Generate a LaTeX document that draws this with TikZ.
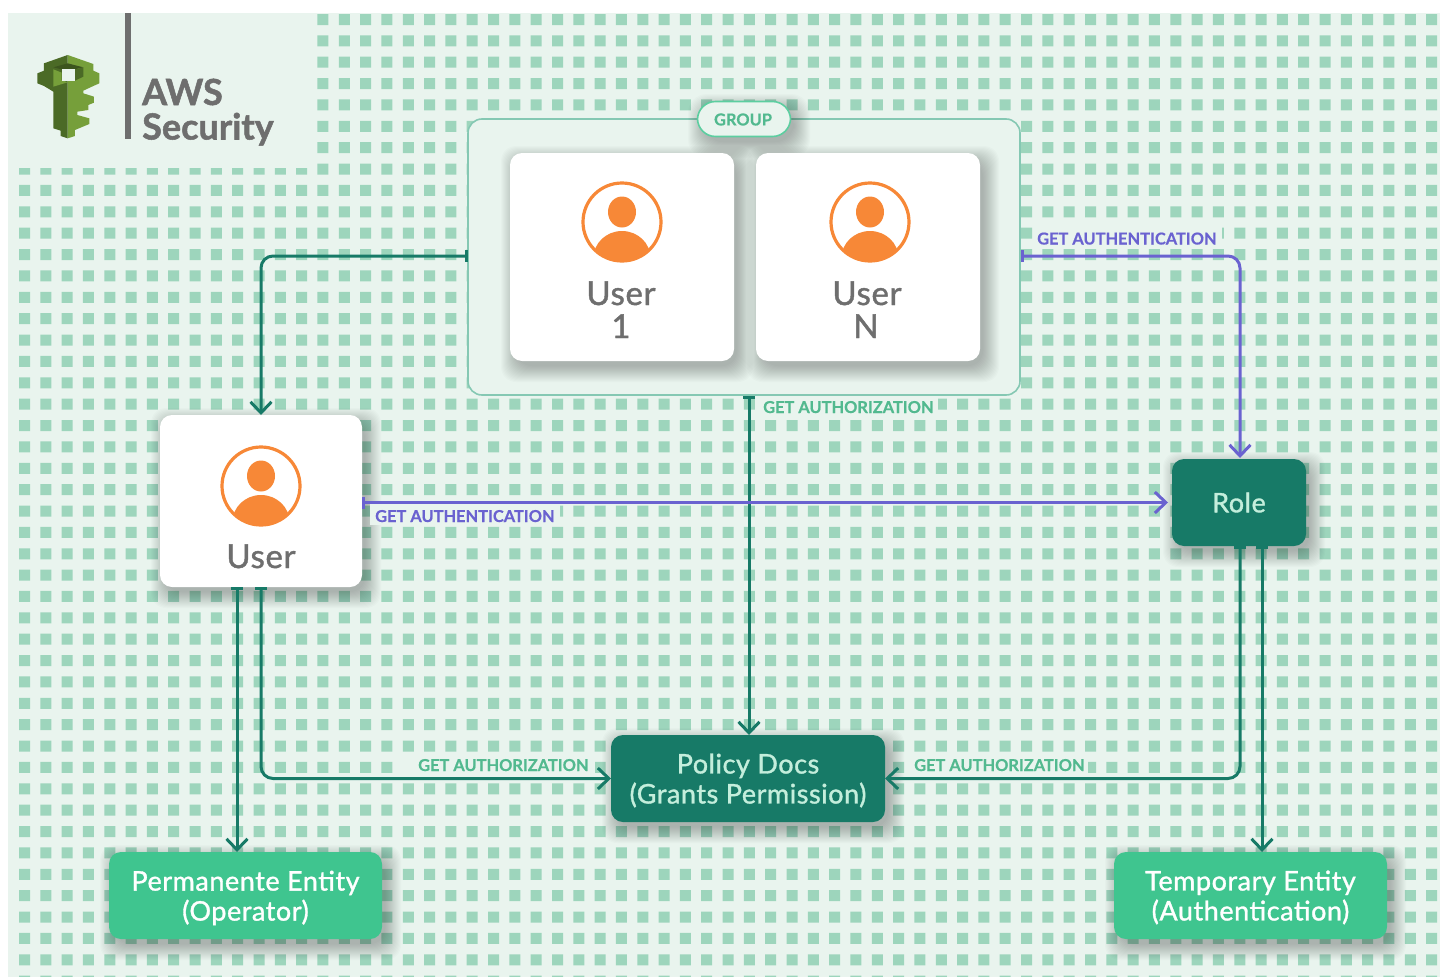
\documentclass[tikz,border=0pt]{standalone}
\usepackage{fontspec}
\setmainfont{Lato}[BoldFeatures={FakeBold=0.5}]
\newfontfamily\semif{Lato}[LetterSpace=2,UprightFeatures={FakeBold=1.2}]
\newfontfamily\heavyf{Lato}[BoldFeatures={FakeBold=1.4}]
\usetikzlibrary{arrows.meta,calc}
\definecolor{panel}{HTML}{E9F4EE}
\definecolor{dotc}{HTML}{9DD5BC}
\definecolor{tealc}{HTML}{177A67}
\definecolor{mintc}{HTML}{3FC58F}
\definecolor{purp}{HTML}{6A62D0}
\definecolor{lblgreen}{HTML}{52B98F}
\definecolor{grayt}{HTML}{6E6E6E}
\definecolor{orangec}{HTML}{F78837}
\definecolor{keyd}{HTML}{4B6A26}
\definecolor{keyl}{HTML}{769F3A}
\definecolor{softt}{HTML}{C4EEDC}
\newcommand{\softshadow}[5]{%
  \foreach \e in {14,13,...,-2}{%
    \fill[black,fill opacity=.015,rounded corners=#5+3pt]
      (#1-\e+5,#2-\e+7) rectangle (#3+\e+5,#4+\e+7);}}
\newcommand{\usericon}[2]{%
  \begin{scope}[shift={(#1,#2)}]
    \draw[orangec,line width=3.2pt,fill=white] (0,0) circle (39);
    \fill[orangec] (0,-10) ellipse (14 and 15.5);
    \begin{scope}
      \clip (0,0) circle (39);
      \fill[orangec] (0,36) ellipse (28.5 and 27);
    \end{scope}
  \end{scope}}
\tikzset{
  x=1pt,y=-1pt,
  boxbase/.style={inner sep=0pt,outer sep=0pt,align=center,rounded corners=12pt},
  whitebox/.style={boxbase,fill=white},
  tealbox/.style={boxbase,fill=tealc},
  mintbox/.style={boxbase,fill=mintc},
  boxtext/.style={inner sep=0pt,align=center,font=\semif\fontsize{27}{30}\selectfont},
  usertext/.style={anchor=base,text=grayt,inner sep=0pt,font=\semif\fontsize{33}{34}\selectfont},
  lbl/.style={anchor=base west,inner sep=0pt,font=\bfseries\fontsize{16.4}{17}\selectfont},
  tline/.style={draw=tealc,line width=3pt,rounded corners=12pt,{Bar[width=12pt,line width=3pt]}-{Straight Barb[length=11pt,width=21pt,line width=3pt]}},
  pline/.style={tline,draw=purp},
}
\begin{document}
\begin{tikzpicture}
\useasboundingbox (0,0) rectangle (1443,977);
% panel and dots
\fill[panel] (8,13) rectangle (1440,977);
\begin{scope}
  \clip (8,13) rectangle (1440,977);
  \fill[dotc] foreach \c in {0,...,66}{foreach \r in {0,...,45}{
    ({24.5+21.32*\c-5.5},{19.5+21.37*\r-5.5}) rectangle ++(11,11)}};
\end{scope}
% logo panel
\fill[panel] (8,13) rectangle (317,167.5);
\fill[grayt] (125,13) rectangle (130.5,139);
\node[anchor=base west,inner sep=0pt,text=grayt,font=\heavyf\bfseries\fontsize{36}{36}\selectfont] (aws) at (142,105) {AWS};
\node[anchor=base west,inner sep=0pt,text=grayt,font=\heavyf\bfseries\fontsize{36}{36}\selectfont] (sec) at (142,139.5) {Security};
% key
\begin{scope}[shift={(30,50)},x=0.3333pt,y=-0.3333pt]
  \fill[keyl] (113,15)--(190,42)--(190,62)--(208,70)--(208,100)--(190,108)--(160,122)--(160,130)--(192,140)--(192,158)--(175,165)--(175,180)--(142,185)--(142,195)--(178,205)--(178,222)--(135,240)--(135,258)--(113,265)--cycle;
  \fill[keyd] (113,15)--(42,40)--(42,62)--(22,70)--(22,100)--(42,108)--(70,125)--(70,235)--(92,242)--(92,258)--(113,265)--cycle;
  \fill[keyl] (70,58)--(95,68)--(95,90)--(113,97)--(70,110)--cycle;
  \fill[keyd!80!black] (70,52)--(113,40)--(160,52)--(135,58)--(95,58)--cycle;
  \fill[keyd] (135,58)--(160,52)--(160,80)--(135,92)--cycle;
  \fill[panel] (95,58)--(135,58)--(135,92)--(95,92)--cycle;
\end{scope}
% group
\draw[draw=dotc!85!teal,line width=1.6pt,fill=panel,rounded corners=14pt] (468,119) rectangle (1020,395);
\coordinate (grpW) at (468,256);
\coordinate (grpE) at (1021,256);
\coordinate (grpS) at (749,396);
% pill
\softshadow{697}{101}{791}{137}{16}
\node[boxbase,rounded corners=18pt,fill=panel,draw=mintc!85!white,line width=1.6pt,minimum width=93pt,minimum height=35pt] (pill) at (744,119) {};
\node[inner sep=0pt,text=lblgreen,font=\bfseries\fontsize{16.4}{17}\selectfont] (pillt) at (743,119.5) {GROUP};
% user boxes
\softshadow{510}{153}{734}{361}{12}
\softshadow{756}{153}{980}{361}{12}
\softshadow{160}{415}{362}{587}{12}
\softshadow{1172}{459}{1306}{546}{12}
\softshadow{611}{735}{885}{822}{12}
\softshadow{109}{852}{382}{939}{12}
\softshadow{1114}{852}{1387}{939}{12}
\node[whitebox,minimum width=224pt,minimum height=208pt] (u1) at (622,257) {};
\node[whitebox,minimum width=224pt,minimum height=208pt] (un) at (868,257) {};
\node[whitebox,minimum width=202pt,minimum height=172pt] (usr) at (261,501) {};
\node[tealbox,minimum width=134pt,minimum height=87pt] (role) at (1239,502.5) {};
\node[tealbox,minimum width=274pt,minimum height=87pt] (pol) at (748,778.5) {};
\node[mintbox,minimum width=273pt,minimum height=87pt] (perm) at (245.5,895.5) {};
\node[mintbox,minimum width=273pt,minimum height=87pt] (temp) at (1250.5,895.5) {};
\node[boxtext,text=softt] (rolet) at (1239,502.5) {Role};
\node[boxtext,text=softt] (polt) at (748,780.5) {Policy Docs\\(Grants Permission)};
\node[boxtext,text=white] (permt) at (245.5,898) {Permanente Entity\\(Operator)};
\node[boxtext,text=white] (tempt) at (1250.5,897.5) {Temporary Entity\\(Authentication)};
\usericon{622}{222}
\usericon{870}{222}
\usericon{261}{486}
\node[usertext] (u1a) at (621,305) {User};
\node[usertext] (u1b) at (621,338) {1};
\node[usertext] (una) at (867,305) {User};
\node[usertext] (unb) at (866,338) {N};
\node[usertext] (usrt) at (261,568) {User};
% label patches
\fill[panel] (1033,227) rectangle (1222,248);
\fill[panel] (756,397.5) rectangle (938,416);
\fill[panel] (370,503) rectangle (560,525);
\fill[panel] (396,760) rectangle (595,775);
\fill[panel] (905,760) rectangle (1088,775);
\node[lbl,text=purp] (l1) at (1037,244.5) {GET AUTHENTICATION};
\node[lbl,text=lblgreen] (l2) at (763,413) {GET AUTHORIZATION};
\node[lbl,text=purp] (l3) at (375,522) {GET AUTHENTICATION};
\node[lbl,text=lblgreen] (l4) at (418,771) {GET AUTHORIZATION};
\node[lbl,text=lblgreen] (l5) at (914,771) {GET AUTHORIZATION};
% connector anchors
\coordinate (usrA) at ($(usr.south)+(-24,0)$);
\coordinate (roleA) at ($(role.south)+(1,0)$);
\coordinate (roleB) at ($(role.south)+(23,0)$);
\coordinate (roleN) at ($(role.north)+(1,-1)$);
\coordinate (roleW) at ($(role.west)+(-4,0)$);
% connectors
\draw[tline] (grpW) -| (usr.north);
\draw[tline] (grpS) -- (grpS |- pol.north);
\draw[tline] (usrA) -- (usrA |- perm.north);
\draw[tline] (usr.south) |- (pol.west);
\draw[tline] (roleA) |- (pol.east);
\draw[tline] (roleB) -- (roleB |- temp.north);
\draw[pline] (grpE) -| (roleN);
\draw[pline] (usr.east |- roleW) -- (roleW);
\end{tikzpicture}
\end{document}
